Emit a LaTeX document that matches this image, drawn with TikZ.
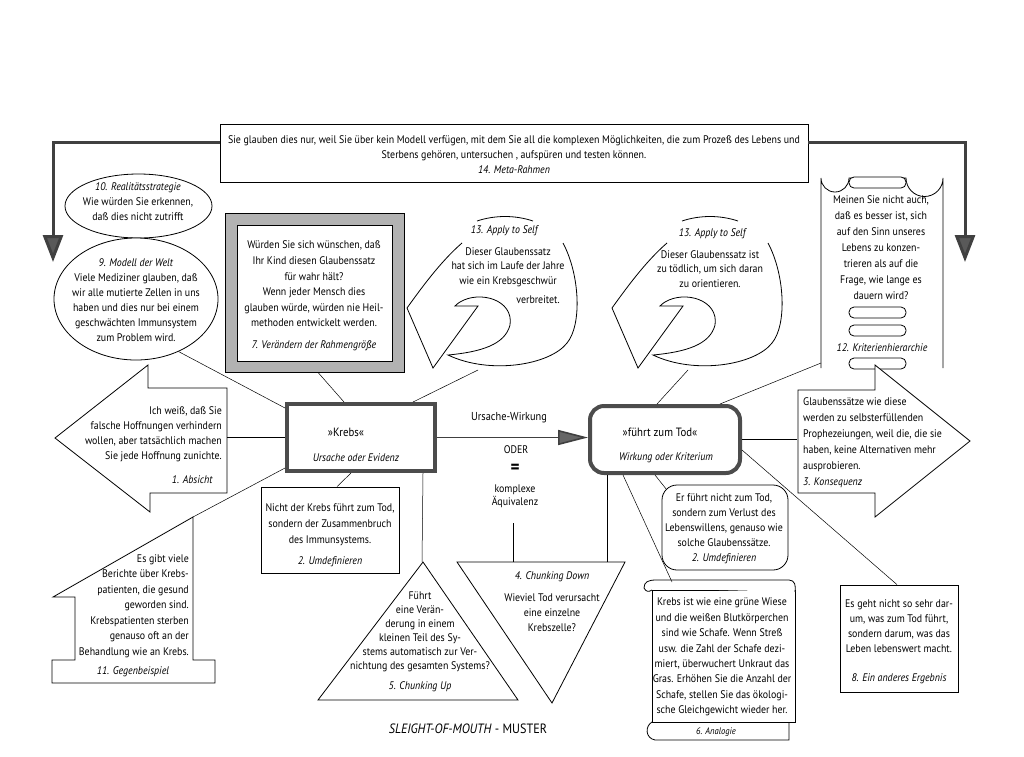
\documentclass[tikz,border=0pt]{standalone}
\usepackage{fontspec}
\setmainfont{PT Sans}[FakeStretch=0.9]
\usetikzlibrary{shapes.geometric,arrows.meta}

\tikzset{
    txt/.style={font=\fontsize{11}{15}\selectfont, align=center, inner sep=0pt},
    bx/.style={draw, line width=0.8pt, fill=white},
    conn/.style={line width=0.5pt},
    heavy/.style={draw=black!70, line width=4pt, fill=white},
    bigarrow/.style={draw=black!75, line width=3pt, -{Triangle[width=20pt,length=27pt,fill=black!65]}},
    causal/.style={draw=black!75, line width=1.6pt, -{Triangle[width=15pt,length=30pt,fill=black!60]}},
}

\begin{document}
\begin{tikzpicture}[x=1pt,y=-1pt]
    \useasboundingbox (0,0) rectangle (1024,756);

    % free ends of the connectors
    \coordinate (apLfoot) at (478,370);
    \coordinate (apRfoot) at (688,370);
    \coordinate (absR) at (227,437.5);
    \coordinate (houseTop) at (193,517);
    \coordinate (cuTop) at (422,562);
    \coordinate (kaqFoot) at (513,523);
    \coordinate (cdTopL) at (513,562);
    \coordinate (cdTopR) at (607,562);
    \coordinate (ladFoot) at (821,363);
    \coordinate (konsL) at (797,439.5);
    \coordinate (scrollTop) at (672,582);

    % top frame
    \node[bx, minimum width=588pt, minimum height=58pt] (meta) at (514,153) {};
    \node[txt] (metatxt) at (514,155) {Sie glauben dies nur, weil Sie über kein Modell verfügen, mit dem Sie all die komplexen Möglichkeiten, die zum Prozeß des Lebens und\\Sterbens gehören, untersuchen , aufspüren und testen können.\\\textit{14. Meta-Rahmen}};
    \coordinate (leftdrop) at (53,262);
    \coordinate (rightdrop) at (965,262);
    \draw[bigarrow] ([yshift=11pt]meta.west) -| (leftdrop);
    \draw[bigarrow] ([yshift=11pt]meta.east) -| (rightdrop);

    % left ellipses
    \node[bx, ellipse, minimum width=147pt, minimum height=64pt, inner sep=0pt] (real) at (138.5,206) {};
    \node[txt] (realtxt) at (138,202) {\textit{10. Realitätsstrategie}\\Wie würden Sie erkennen,\\daß dies nicht zutrifft};
    \node[bx, ellipse, minimum width=164pt, minimum height=122pt, inner sep=0pt] (welt) at (136,299) {};
    \node[txt] (welttxt) at (136,300) {\textit{9. Modell der Welt}\\Viele Mediziner glauben, daß\\wir alle mutierte Zellen in uns\\haben und dies nur bei einem\\geschwächten Immunsystem\\zum Problem wird.};

    % grey frame
    \node[draw, fill=black!30, minimum width=179pt, minimum height=159pt] (frame7) at (314.5,292.5) {};
    \node[bx, minimum width=155pt, minimum height=136pt] (rahmen) at (314.5,293) {};
    \node[txt, font=\fontsize{11}{15.6}\selectfont] (rahmentxt) at (314,296) {Würden Sie sich wünschen, daß\\Ihr Kind diesen Glaubenssatz\\für wahr hält?\\Wenn jeder Mensch dies\\glauben würde, würden nie Heil-\\methoden entwickelt werden.\\[6pt]\textit{7. Verändern der Rahmengröße}};

    % apply to self loops
    \foreach \dx in {0,205} {
        \begin{scope}[xshift=\dx pt]
            \draw[line width=0.8pt, fill=white] (563,243) .. controls (580,275) and (582,325) .. (567,343) .. controls (550,365) and (490,375) .. (448,355) .. controls (480,352) and (505,345) .. (510,325) .. controls (514,300) and (480,290) .. (460,302) .. controls (457,304) and (456,305) .. (455,306) -- (478,306) -- (433,368) -- (407,308) .. controls (420,290) and (440,262) .. (462,243);
            \draw[line width=0.8pt] (477,221) .. controls (495,215) and (515,215) .. (533,221);
        \end{scope}
    }
    \node[txt] (selfLlbl) at (505,231) {\textit{13. Apply to Self}};
    \node[txt, font=\fontsize{11}{14.5}\selectfont] (selfLtxt) at (508,267) {Dieser Glaubenssatz\\hat sich im Laufe der Jahre\\wie ein Krebsgeschwür};
    \node[txt, anchor=east] (selfLend) at (560,300) {verbreitet.};
    \node[txt] (selfRlbl) at (713,234) {\textit{13. Apply to Self}};
    \node[txt, font=\fontsize{11}{14.5}\selectfont] (selfRtxt) at (710,269) {Dieser Glaubenssatz ist\\zu tödlich, um sich daran\\zu orientieren.};

    % ladder
    \draw[line width=0.8pt, fill=white] (821,368) -- (821,178) arc[start angle=180, end angle=0, radius=14] -- (906,178) arc[start angle=180, end angle=0, radius=18.5] -- (943,368);
    \foreach \ry in {177,307,325,358} {
        \draw[line width=0.8pt, fill=white, rounded corners=5pt] (849,\ry) rectangle (906,\ry+11);
    }
    \node[txt, font=\fontsize{11}{16}\selectfont] (ladtxt) at (881,248) {Meinen Sie nicht auch,\\daß es besser ist, sich\\auf den Sinn unseres\\Lebens zu konzen-\\trieren als auf die\\Frage, wie lange es\\dauern wird?};
    \node[txt] (ladlbl) at (882,348) {\textit{12. Kriterienhierarchie}};

    % left arrow
    \draw[bx] (55,438) -- (148,365) -- (148,388) -- (227,388) -- (227,493) -- (150,493) -- (150,512) -- cycle;
    \node[txt, align=right, anchor=east] (abstxt) at (222,434) {Ich weiß, daß Sie\\falsche Hoffnungen verhindern\\wollen, aber tatsächlich machen\\Sie jede Hoffnung zunichte.};
    \node[txt, anchor=east] (abslbl) at (213,480) {\textit{1. Absicht}};

    % right arrow
    \draw[bx] (798,390) -- (875,390) -- (875,365) -- (970,441) -- (875,517) -- (875,493) -- (798,493) -- cycle;
    \node[txt, align=left, anchor=west, font=\fontsize{11}{16}\selectfont] (konstxt) at (803,443) {Glaubenssätze wie diese\\werden zu selbsterfüllenden\\Prophezeiungen, weil die, die sie\\haben, keine Alternativen mehr\\ausprobieren.\\\textit{3. Konsequenz}};

    % house
    \draw[bx] (193,517) -- (193,660) -- (215,660) -- (215,683) -- (52,683) -- (52,660) -- (75,660) -- (75,597) -- (53,597) -- cycle;
    \node[txt, align=right, anchor=east, font=\fontsize{11}{15.5}\selectfont] (housetxt) at (189,606) {Es gibt viele\\Berichte über Krebs-\\patienten, die gesund\\geworden sind.\\Krebspatienten sterben\\genauso oft an der\\Behandlung wie an Krebs.};
    \node[txt] (houselbl) at (133,672) {\textit{11. Gegenbeispiel}};

    % centre
    \node[heavy, minimum width=148pt, minimum height=67pt] (krebs) at (361,437.5) {};
    \node[txt, font=\fontsize{12}{14}\selectfont] (krebstxt) at (346,432) {»Krebs«};
    \node[txt] (krebslbl) at (356,458) {\textit{Ursache oder Evidenz}};
    \node[heavy, rounded corners=14pt, minimum width=150pt, minimum height=67pt] (tod) at (665,439.5) {};
    \node[txt, font=\fontsize{12}{14}\selectfont] (todtxt) at (660,432) {»führt zum Tod«};
    \node[txt] (todlbl) at (666,458) {\textit{Wirkung oder Kriterium}};
    \draw[causal] (krebs.east) -- (krebs.east -| tod.west);
    \node[txt, font=\fontsize{11.5}{13}\selectfont] (uw) at (509,418) {Ursache-Wirkung};
    \node[txt, font=\fontsize{11}{13}\selectfont] (oder) at (516,450) {ODER};
    \node[txt, font=\bfseries\fontsize{19}{19}\selectfont] (eq) at (515,469) {=};
    \node[txt, font=\fontsize{11}{12.5}\selectfont] (kaq) at (515,496) {komplexe\\Äquivalenz};

    % boxes below
    \node[bx, minimum width=138pt, minimum height=86pt] (umdefL) at (330,530) {};
    \node[txt, font=\fontsize{11}{16}\selectfont] (umdefLtxt) at (330,535) {Nicht der Krebs führt zum Tod,\\sondern der Zusammenbruch\\des Immunsystems.\\[5pt]\textit{2. Umdefinieren}};
    \node[bx, rounded corners=15pt, minimum width=126pt, minimum height=85pt] (umdefR) at (725,527.5) {};
    \node[txt] (umdefRtxt) at (724,529) {Er führt nicht zum Tod,\\sondern zum Verlust des\\Lebenswillens, genauso wie\\solche Glaubenssätze.\\\textit{2. Umdefinieren}};
    \node[bx, minimum width=118pt, minimum height=107pt] (ergebnis) at (899,638.5) {};
    \node[txt] (ergebnistxt) at (899,642) {Es geht nicht so sehr dar-\\um, was zum Tod führt,\\sondern darum, was das\\Leben lebenswert macht.\\[14pt]\textit{8. Ein anderes Ergebnis}};

    % triangles
    \draw[bx] (457,562) -- (625,562) -- (552,703) -- cycle;
    \node[txt] (cdtxt) at (552,602) {\textit{4. Chunking Down}\\[7pt]Wieviel Tod verursacht\\eine einzelne\\Krebszelle?};
    \draw[bx] (423,562) -- (518,700) -- (318,700) -- cycle;
    \node[txt, font=\fontsize{11}{14}\selectfont] (cutxt) at (420,642) {Führt\\eine Verän-\\derung in einem\\kleinen Teil des Sy-\\stems automatisch zur Ver-\\nichtung des gesamten Systems?\\[6pt]\textit{5. Chunking Up}};

    % scroll
    \draw[bx] (652,590) rectangle (795,722);
    \draw[bx] (644,588) .. controls (644,582) and (648,580) .. (656,580) -- (789,580) .. controls (795,580) and (796,586) .. (795,592);
    \draw[line width=0.8pt] (644,588) .. controls (646,592) and (649,592) .. (652,590);
    \draw[line width=0.8pt] (652,722) .. controls (645,726) and (645,738) .. (655,740) -- (789,740) -- (789,722);
    \node[txt, font=\fontsize{11}{15.4}\selectfont] (scrolltxt) at (722,657) {Krebs ist wie eine grüne Wiese\\und die weißen Blutkörperchen\\sind wie Schafe. Wenn Streß\\usw. die Zahl der Schafe dezi-\\miert, überwuchert Unkraut das\\Gras. Erhöhen Sie die Anzahl der\\Schafe, stellen Sie das ökologi-\\sche Gleichgewicht wieder her.};
    \node[txt, font=\fontsize{9.5}{10}\selectfont] (scrolllbl) at (716,732) {\textit{6. Analogie}};

    % lines
    \draw[conn] (welt.-51) -- ([yshift=-6pt]krebs.north west);
    \draw[conn] ([xshift=93pt]frame7.south west) -- ([xshift=59pt]krebs.north west);
    \draw[conn] (apLfoot) -- ([xshift=-24pt]krebs.north east);
    \draw[conn] (absR) -- (krebs.west);
    \draw[conn] (houseTop) -- ([yshift=5pt]krebs.south west);
    \draw[conn] ([xshift=66pt]krebs.south west) -- ([xshift=7pt]umdefL.north);
    \draw[conn] ([xshift=-14pt]krebs.south east) -- (cuTop);
    \draw[conn] (kaqFoot) -- (cdTopL);
    \draw[conn] ([xshift=69pt]tod.north west) -- (apRfoot);
    \draw[conn] ([xshift=-22pt]tod.north east) -- (ladFoot);
    \draw[conn] (tod.east) -- (konsL);
    \draw[conn] ([yshift=-10.5pt]tod.east) -- ([xshift=-2pt]ergebnis.north);
    \draw[conn] ([xshift=67pt]tod.south west) -- ([xshift=5pt,yshift=-5pt]umdefR.north west);
    \draw[conn] ([xshift=35pt]tod.south west) -- (scrollTop);
    \draw[conn] ([xshift=19pt]tod.south west) -- (cdTopR);

    \node[font=\fontsize{13.5}{14}\selectfont] (title) at (468,729) {\textit{SLEIGHT-OF-MOUTH} - MUSTER};
\end{tikzpicture}
\end{document}
